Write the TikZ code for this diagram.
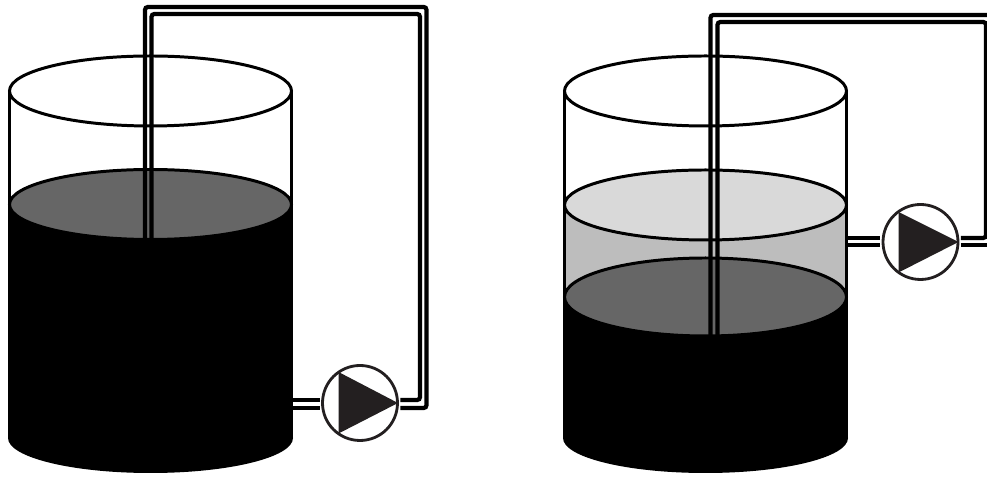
\documentclass[tikz,border=0pt]{standalone}
\usetikzlibrary{positioning,calc}
\definecolor{toplayer}{RGB}{217,217,217}
\definecolor{midlayer}{RGB}{189,189,189}
\definecolor{darklayer}{RGB}{102,102,102}
\definecolor{pumpink}{RGB}{35,31,32}
\tikzset{pipe/.style={black,line width=1.2pt,rounded corners=0.8pt},
  wall/.style={black,line width=0.6pt},
  rim/.style={draw=black,line width=0.85pt},
  pump/.style={circle,draw=pumpink,fill=white,line width=0.8pt,inner sep=0pt,minimum size=0.75cm}}
\begin{document}
\begin{tikzpicture}[x=1cm,y=-1cm]
\useasboundingbox (0,0) rectangle (9.87,4.77);
% left tank
\draw[wall] (0.095,0.91) -- (0.095,2.04); \draw[wall] (2.915,0.91) -- (2.915,2.04);
\draw[rim] (1.505,0.91) ellipse [x radius=1.41,y radius=0.35];
\fill[black] (0.08,2.04) rectangle (2.93,4.38);
\fill[black] (1.505,4.38) ellipse [x radius=1.425,y radius=0.35];
\draw[rim,fill=darklayer] (1.505,2.045) ellipse [x radius=1.41,y radius=0.35];
\node[pump] (pumpa) at (3.60,4.03) {};
\fill[pumpink] (3.385,3.72) -- (3.385,4.335) -- (3.98,4.03) -- cycle;
\coordinate (outa) at (1.45,2.39); \coordinate (ina) at (1.515,2.39);
\draw[pipe] (outa) -- (1.45,0.07) -- (4.265,0.07) -- (4.265,4.08) -- ([yshift=-0.05cm,xshift=0.015cm]pumpa.east);
\draw[pipe] (ina) -- (1.515,0.14) -- (4.20,0.14) -- (4.20,4.00) -- ([yshift=0.03cm,xshift=0.015cm]pumpa.east);
\draw[pipe] (2.93,4.00) -- ([yshift=0.03cm,xshift=-0.015cm]pumpa.west);
\draw[pipe] (2.93,4.08) -- ([yshift=-0.05cm,xshift=-0.015cm]pumpa.west);
% right tank
\draw[wall] (5.645,0.91) -- (5.645,2.05); \draw[wall] (8.465,0.91) -- (8.465,2.05);
\draw[rim] (7.055,0.91) ellipse [x radius=1.41,y radius=0.35];
\fill[midlayer] (5.645,2.05) rectangle (8.465,2.96);
\draw[wall] (5.645,2.05) -- (5.645,2.96); \draw[wall] (8.465,2.05) -- (8.465,2.96);
\draw[rim,fill=toplayer] (7.055,2.05) ellipse [x radius=1.41,y radius=0.35];
\fill[black] (5.63,2.96) rectangle (8.48,4.38);
\fill[black] (7.055,4.38) ellipse [x radius=1.425,y radius=0.35];
\draw[rim,fill=darklayer] (7.055,2.97) ellipse [x radius=1.41,y radius=0.39];
\node[pump] (pumpb) at (9.205,2.42) {};
\fill[pumpink] (8.985,2.12) -- (8.985,2.725) -- (9.585,2.42) -- cycle;
\coordinate (outb) at (7.105,3.37); \coordinate (inb) at (7.175,3.37);
\coordinate (edgeb) at (9.87,2.45);
\draw[pipe] (outb) -- (7.105,0.15) -- (9.87,0.15);
\draw[pipe] (inb) -- (7.175,0.22) -- (9.86,0.22) -- (9.86,2.38) -- ([yshift=0.04cm,xshift=0.015cm]pumpb.east);
\draw[pipe] ([yshift=-0.03cm,xshift=0.015cm]pumpb.east) -- (edgeb);
\draw[pipe] (8.48,2.38) -- ([yshift=0.04cm,xshift=-0.015cm]pumpb.west);
\draw[pipe] (8.48,2.45) -- ([yshift=-0.03cm,xshift=-0.015cm]pumpb.west);
\end{tikzpicture}
\end{document}
